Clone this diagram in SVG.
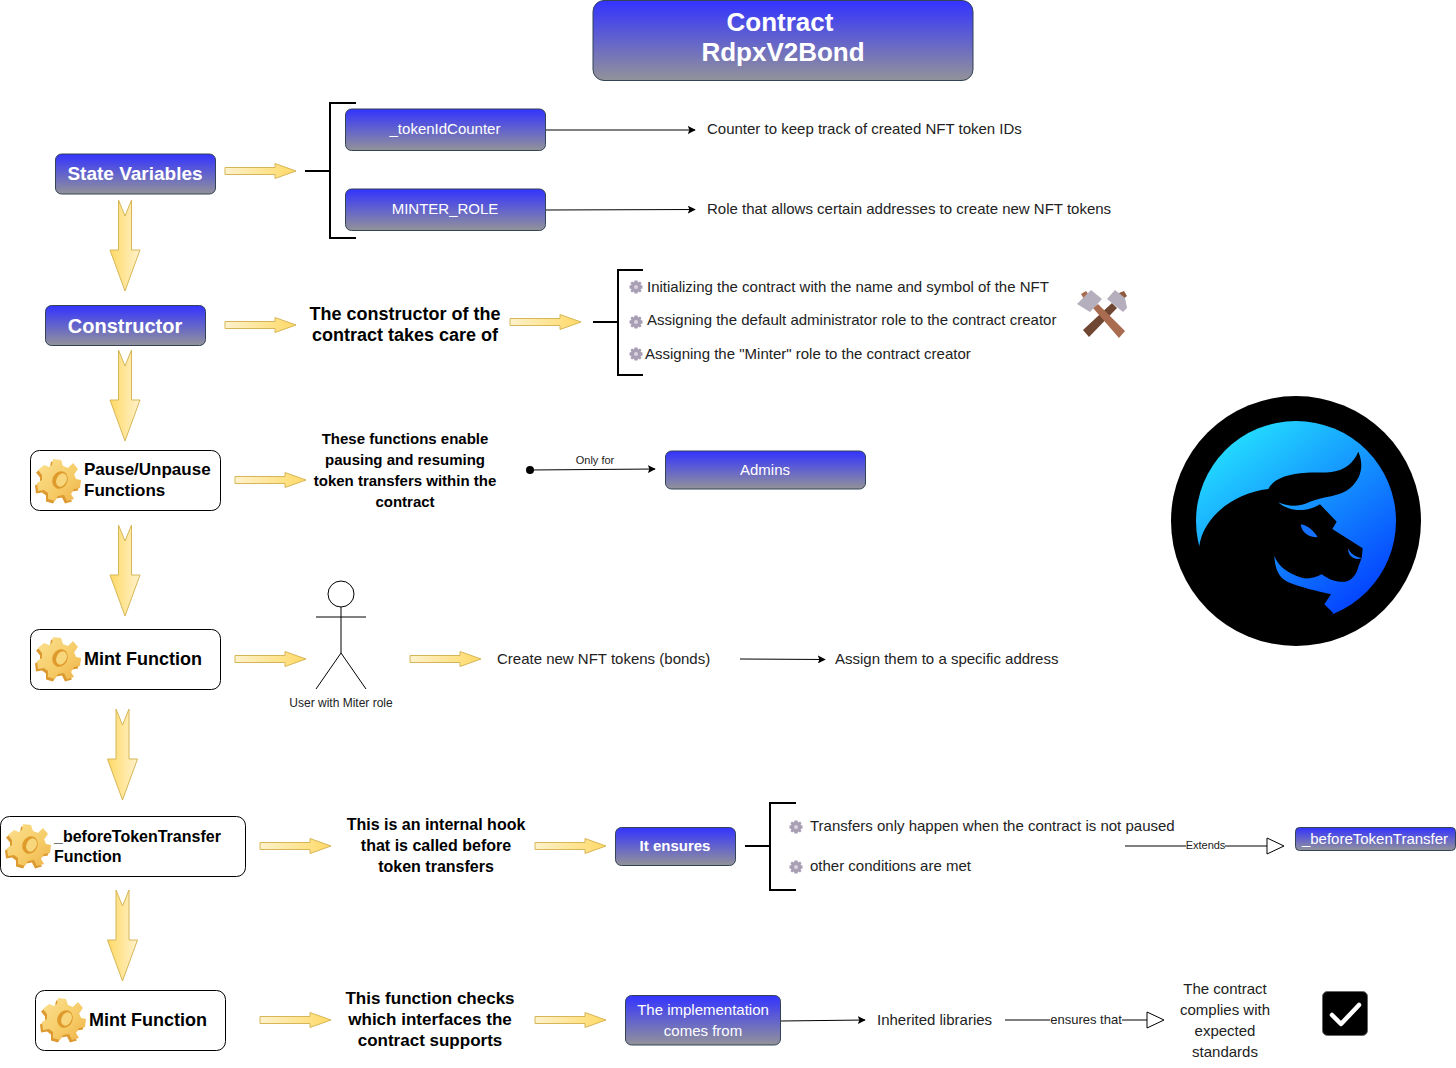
<svg xmlns="http://www.w3.org/2000/svg" xmlns:xlink="http://www.w3.org/1999/xlink" width="1456" height="1068" viewBox="0 0 1456 1068">
<style>
text{font-family:"Liberation Sans",Arial,sans-serif;fill:#000}
.blue{fill:url(#bg);stroke:#314354;stroke-width:1}
.wb{fill:#fff;font-weight:bold;text-anchor:middle}
.w{fill:#fff;text-anchor:middle;font-size:15px}
.card{fill:#fff;stroke:#000;stroke-width:1}
.b{font-weight:bold;font-size:17px}
.bm{font-weight:bold;font-size:16px;text-anchor:middle}
.bl{font-weight:bold;font-size:18px;text-anchor:middle}
.t{font-size:15px;fill:#222}
.tm{font-size:15px;fill:#222;text-anchor:middle}
.line{fill:none;stroke:#000;stroke-width:1}
.brk{fill:none;stroke:#000;stroke-width:2}
.ya{fill:url(#yh);stroke:#d6b656;stroke-width:1}
.lab{font-size:11px;text-anchor:middle;fill:#222}
</style>
<defs>
<linearGradient id="bg" x1="0" y1="0" x2="0" y2="1"><stop offset="0" stop-color="#3333ff"/><stop offset="1" stop-color="#939399"/></linearGradient>
<linearGradient id="yh" x1="0" y1="0" x2="1" y2="0"><stop offset="0" stop-color="#fff2cc"/><stop offset="1" stop-color="#ffd966"/></linearGradient>
<linearGradient id="yv" x1="0" y1="0" x2="1" y2="0"><stop offset="0" stop-color="#ffd966"/><stop offset="1" stop-color="#fff2cc"/></linearGradient>
<linearGradient id="gold" x1="0" y1="0" x2="1" y2="1"><stop offset="0" stop-color="#fbe08f"/><stop offset=".6" stop-color="#f6cb66"/><stop offset="1" stop-color="#eeb24a"/></linearGradient>
<linearGradient id="bull" x1="0.15" y1="0.1" x2="0.8" y2="0.95"><stop offset="0" stop-color="#23dcff"/><stop offset="1" stop-color="#0440ff"/></linearGradient>
<path id="ha" d="M0 -3.500H50V-7.500L71 0L50 7.500V3.500H0Z"/>
<path id="va" d="M-6.500 0L0 16L6.500 0V50H15L0 91L-15 50H-6.500Z"/>
<marker id="tri" viewBox="0 0 10 10" refX="9" refY="5" markerWidth="8" markerHeight="8" orient="auto" markerUnits="userSpaceOnUse"><path d="M0 0L10 5L0 10L2 5Z" fill="#000"/></marker>
<path id="gp" d="M-6 -21L2 -20L4 -14L9 -12L14 -17L19 -11L15 -6L17 -1L22 0L21 8L15 9L12 14L15 19L8 21L5 15L-1 16L-4 21L-11 19L-11 13L-15 10L-21 11L-22 3L-17 0L-17 -5L-21 -10L-15 -15L-10 -13L-7 -15Z"/>
<g id="gear">
<use href="#gp" x="-1" y="1.500" fill="#dc9a30"/>
<use href="#gp" x="1" y="-1" fill="url(#gold)"/>
<ellipse cx="2" cy="-1" rx="7.500" ry="9" transform="rotate(25 2 -1)" fill="#df9a2c"/>
<ellipse cx="3.500" cy="-1" rx="5" ry="7" transform="rotate(25 3.500 -1)" fill="#f8d67c"/>
</g>
<g id="sg">
<path fill="#a89fb5" d="M-1.500 -6.500H1.500L2 -4.500L4 -5.500L5.500 -4L4.500 -2L6.500 -1.500V1.500L4.500 2L5.500 4L4 5.500L2 4.500L1.500 6.500H-1.500L-2 4.500L-4 5.500L-5.500 4L-4.500 2L-6.500 1.500V-1.500L-4.500 -2L-5.500 -4L-4 -5.500L-2 -4.500Z"/>
<circle r="2" fill="#d9d4df"/>
</g>
</defs>

<g id="connectors">
<g class="ya">
<use href="#ha" x="225" y="171"/><use href="#ha" x="225" y="325"/><use href="#ha" x="510" y="322"/>
<use href="#ha" x="235" y="480"/><use href="#ha" x="235" y="659"/><use href="#ha" x="410" y="659"/>
<use href="#ha" x="260" y="846"/><use href="#ha" x="535" y="846"/><use href="#ha" x="260" y="1020"/><use href="#ha" x="535" y="1020"/>
</g>
<g class="ya" style="fill:url(#yv)">
<use href="#va" x="125" y="200"/><use href="#va" x="125" y="350"/><use href="#va" x="125" y="525"/><use href="#va" x="122.500" y="709"/><use href="#va" x="122.500" y="890"/>
</g>
<path class="brk" d="M305 171H330M356 103H330V238H356"/>
<path class="brk" d="M593 322H618M643 270H618V375H643"/>
<path class="brk" d="M745 846H770M796 803H770V890H796"/>
<path class="line" marker-end="url(#tri)" d="M546 130H695"/>
<path class="line" marker-end="url(#tri)" d="M546 210L695 209.500"/>
<circle cx="530" cy="470" r="4" fill="#000"/>
<path class="line" marker-end="url(#tri)" d="M530 470L655 469"/>
<text class="lab" x="595" y="464">Only for</text>
<path class="line" marker-end="url(#tri)" d="M740 659L825 659.500"/>
<path class="line" marker-end="url(#tri)" d="M781 1021L865 1020"/>
<path class="line" d="M1125 846H1267"/>
<path d="M1267 838L1284 846L1267 854Z" fill="#fff" stroke="#000"/>
<rect x="1186" y="839" width="39" height="13" fill="#fff"/>
<text class="lab" x="1205.500" y="849">Extends</text>
<path class="line" d="M1005 1020H1147"/>
<path d="M1147 1012L1164 1020L1147 1028Z" fill="#fff" stroke="#000"/>
<rect x="1050" y="1013" width="72" height="14" fill="#fff"/>
<text class="lab" style="font-size:13px" x="1086" y="1024">ensures that</text>
</g>

<g id="title"><rect class="blue" x="593" y="0.500" width="380" height="80" rx="11"/>
<text class="wb" font-size="26" x="780" y="31">Contract</text><text class="wb" font-size="26" x="783" y="61">RdpxV2Bond</text></g>

<g id="state-variables"><rect class="blue" x="55.500" y="154" width="160" height="40" rx="6"/><text class="wb" font-size="19" x="135" y="180">State Variables</text></g>
<g id="constructor"><rect class="blue" x="45.500" y="305.500" width="160" height="40" rx="6"/><text class="wb" font-size="20" x="125" y="333">Constructor</text></g>

<g id="tokenIdCounter"><rect class="blue" x="345.500" y="109" width="200" height="41.500" rx="6"/><text class="w" x="445" y="134">_tokenIdCounter</text></g>
<g id="minter-role"><rect class="blue" x="345.500" y="189" width="200" height="41.500" rx="6"/><text class="w" x="445" y="214">MINTER_ROLE</text></g>
<g id="desc-counter"><text class="t" x="707" y="134">Counter to keep track of created NFT token IDs</text></g>
<g id="desc-role"><text class="t" x="707" y="214">Role that allows certain addresses to create new NFT tokens</text></g>

<g id="constructor-text"><text class="bl" x="405" y="320">The constructor of the</text><text class="bl" x="405" y="341">contract takes care of</text></g>
<g id="init-1"><use href="#sg" x="636" y="287"/><text class="t" x="647" y="292">Initializing the contract with the name and symbol of the NFT</text></g>
<g id="init-2"><use href="#sg" x="636" y="322"/><text class="t" x="647" y="325">Assigning the default administrator role to the contract creator</text></g>
<g id="init-3"><use href="#sg" x="636" y="354"/><text class="t" x="645" y="359">Assigning the "Minter" role to the contract creator</text></g>

<g id="hammers">
<path d="M1081 294L1086 291L1089 295L1084 299Z" fill="#a96c50"/>
<path d="M1119 293L1124 291L1127 296L1122 300Z" fill="#8c5a40"/>
<path d="M1083 330L1112 303L1117 308L1089 337Z" fill="#6f4632"/>
<path d="M1093 308L1098 304L1125 331L1119 338Z" fill="#a96c50"/>
<path d="M1077 304L1091 290L1102 299L1090 312Z" fill="#b5aebd"/>
<path d="M1107 299L1115 290L1125 298L1127 308L1123 312Z" fill="#b5aebd"/>
</g>

<g id="pause-unpause"><rect class="card" x="30.500" y="450.500" width="190" height="60" rx="9"/><use href="#gear" x="58" y="481"/><text class="b" x="84" y="475">Pause/Unpause</text><text class="b" x="84" y="496">Functions</text></g>
<g id="pause-text">
<text class="bm" style="font-size:15px" x="405" y="444">These functions enable</text>
<text class="bm" style="font-size:15px" x="405" y="465">pausing and resuming</text>
<text class="bm" style="font-size:15px" x="405" y="486">token transfers within the</text>
<text class="bm" style="font-size:15px" x="405" y="507">contract</text>
</g>
<g id="admins"><rect class="blue" x="665.500" y="451" width="200" height="38" rx="6"/><text class="w" x="765" y="475">Admins</text></g>

<g id="logo">
<circle cx="1296" cy="521" r="125" fill="#000"/>
<circle cx="1296" cy="521" r="100" fill="url(#bull)"/>
<g transform="translate(1160 385) scale(.33333)">
<path fill="#000" d="M118 482C130 400 215 325 325 312C340 280 385 266 440 263C470 262 495 264 515 261C555 255 580 235 595 200C612 240 605 280 570 310C540 335 490 335 450 350C420 366 385 366 355 352C380 378 440 385 480 358L530 410L517 432L608 490L605 520L595 545C590 565 580 580 565 587C545 595 515 590 485 568C465 578 445 584 425 578C385 565 355 545 343 513C345 550 355 578 385 592C420 607 470 618 513 628L493 658L520 685C450 730 350 760 250 730C150 690 90 570 118 482Z"/>
<path fill="#1570ff" d="M422 418C440 420 460 435 473 457C450 458 425 445 422 418Z"/>
<path fill="#1570ff" d="M565 490C570 505 585 515 606 520C585 527 562 515 565 490Z"/>
</g>
</g>

<g id="mint-1"><rect class="card" x="30.500" y="629.500" width="190" height="60" rx="9"/><use href="#gear" x="58" y="659"/><text class="b" style="font-size:18px" x="84" y="665">Mint Function</text></g>
<g id="user">
<circle cx="341" cy="594" r="13" fill="#fff" stroke="#000"/>
<path class="line" d="M341 607V653M316 617H366M316 689L341 653L366 689"/>
<text x="341" y="707" style="font-size:12px;text-anchor:middle;fill:#222">User with Miter role</text>
</g>
<g id="create"><text class="t" x="497" y="664">Create new NFT tokens (bonds)</text></g>
<g id="assign"><text class="t" x="835" y="664">Assign them to a specific address</text></g>

<g id="before-hook"><rect class="card" x="0.500" y="816.500" width="245" height="60" rx="9"/><use href="#gear" x="28" y="846"/><text class="b" style="font-size:16px" x="54" y="842">_beforeTokenTransfer</text><text class="b" style="font-size:16px" x="54" y="862">Function</text></g>
<g id="hook-text"><text class="bm" x="436" y="830">This is an internal hook</text><text class="bm" x="436" y="851">that is called before</text><text class="bm" x="436" y="872">token transfers</text></g>
<g id="ensures"><rect class="blue" x="615.500" y="827.500" width="120" height="38" rx="6"/><text class="wb" font-size="15" x="675" y="851">It ensures</text></g>
<g id="ensure-1"><use href="#sg" x="796" y="827"/><text class="t" x="810" y="831">Transfers only happen when the contract is not paused</text></g>
<g id="ensure-2"><use href="#sg" x="796" y="867"/><text class="t" x="810" y="871">other conditions are met</text></g>
<g id="before-ext"><rect class="blue" x="1295.500" y="827.500" width="160" height="23" rx="4"/><text class="w" x="1375" y="844">_beforeTokenTransfer</text></g>

<g id="mint-2"><rect class="card" x="35.500" y="990.500" width="190" height="60" rx="9"/><use href="#gear" x="63" y="1020"/><text class="b" style="font-size:18px" x="89" y="1026">Mint Function</text></g>
<g id="check-text"><text class="bm" style="font-size:17px" x="430" y="1004">This function checks</text><text class="bm" style="font-size:17px" x="430" y="1025">which interfaces the</text><text class="bm" style="font-size:17px" x="430" y="1046">contract supports</text></g>
<g id="implementation"><rect class="blue" x="625.500" y="995.500" width="155" height="49.500" rx="6"/><text class="w" x="703" y="1015">The implementation</text><text class="w" x="703" y="1036">comes from</text></g>
<g id="inherited"><text class="t" x="877" y="1025">Inherited libraries</text></g>
<g id="complies"><text class="tm" x="1225" y="994">The contract</text><text class="tm" x="1225" y="1015">complies with</text><text class="tm" x="1225" y="1036">expected</text><text class="tm" x="1225" y="1057">standards</text></g>
<g id="checkbox"><rect x="1322.500" y="991.500" width="45" height="44" rx="5" fill="#000" stroke="#666" stroke-width="1"/><path d="M1332 1015L1341 1024L1359 1005" fill="none" stroke="#fff" stroke-width="4.500" stroke-linecap="round" stroke-linejoin="round"/></g>
</svg>
